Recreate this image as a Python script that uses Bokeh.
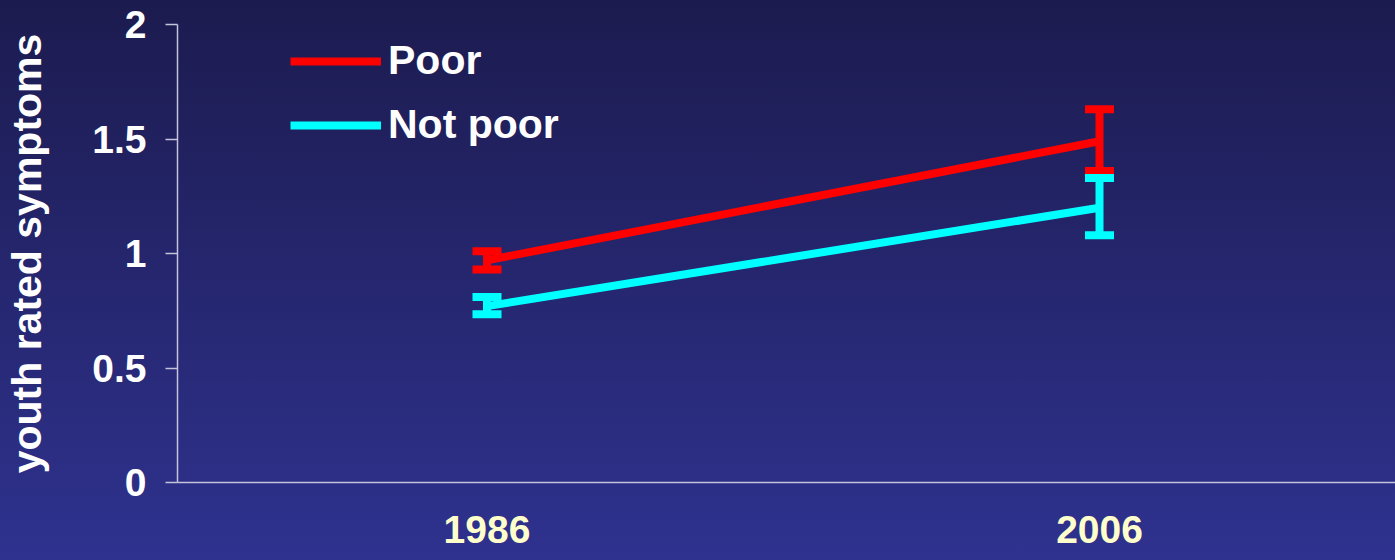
from bokeh.plotting import figure
from bokeh.models import (Range1d, FixedTicker, NumeralTickFormatter, Whisker, TeeHead,
                          ColumnDataSource, Legend, LegendItem, InlineStyleSheet)
from bokeh.embed import file_html
from bokeh.resources import INLINE

# ---- data ----
years = [1986, 2006]
year_labels = ["1986", "2006"]
poor_mean = [0.97, 1.49]
poor_lower = [0.93, 1.36]
poor_upper = [1.01, 1.63]
notpoor_mean = [0.77, 1.20]
notpoor_lower = [0.735, 1.08]
notpoor_upper = [0.81, 1.33]
y_ticks = [0, 0.5, 1, 1.5, 2]

FONT = "Liberation Sans"
RED = "#ff0000"
CYAN = "#00ffff"
AXIS_COL = "#c4c4da"
X_START, X_END = 1975.894, 2015.665

p = figure(width=1395, height=560, output_backend="svg", toolbar_location=None,
           x_range=Range1d(X_START, X_END), y_range=Range1d(0, 2),
           min_border_left=177, min_border_right=0, min_border_top=24, min_border_bottom=78)
p.background_fill_color = None
p.border_fill_color = None
p.outline_line_color = None
p.grid.visible = False
p.stylesheets = [InlineStyleSheet(css=":host { background: linear-gradient(180deg, #1c1b4f 0%, #2f328f 100%); }")]

# axes
xa = p.xaxis[0]
xa.ticker = FixedTicker(ticks=years)
xa.major_label_overrides = {y: l for y, l in zip(years, year_labels)}
xa.major_tick_out = 0
xa.major_tick_in = 0
xa.minor_tick_out = 0
xa.minor_tick_in = 0
xa.axis_line_color = AXIS_COL
xa.axis_line_width = 1.5
xa.major_label_text_font = FONT
xa.major_label_text_font_style = "bold"
xa.major_label_text_font_size = "39px"
xa.major_label_text_color = "#ffffcc"
xa.major_label_standoff = 33

ya = p.yaxis[0]
ya.ticker = FixedTicker(ticks=y_ticks)
ya.formatter = NumeralTickFormatter(format="0.[0]")
ya.major_tick_out = 12
ya.major_tick_in = 0
ya.minor_tick_out = 0
ya.minor_tick_in = 0
ya.major_tick_line_color = AXIS_COL
ya.major_tick_line_width = 1.5
ya.axis_line_color = AXIS_COL
ya.axis_line_width = 1.5
ya.major_label_text_font = FONT
ya.major_label_text_font_style = "bold"
ya.major_label_text_font_size = "39px"
ya.major_label_text_color = "white"
ya.major_label_standoff = 19
ya.axis_label = "youth rated symptoms"
ya.axis_label_text_font = FONT
ya.axis_label_text_font_style = "bold"
ya.axis_label_text_font_size = "41px"
ya.axis_label_text_color = "white"
ya.axis_label_standoff = 39

# lines
r_poor = p.line(years, poor_mean, line_color=RED, line_width=8)
r_np = p.line(years, notpoor_mean, line_color=CYAN, line_width=8)

# error bars
for lo, hi, col in [(poor_lower, poor_upper, RED), (notpoor_lower, notpoor_upper, CYAN)]:
    src = ColumnDataSource(dict(x=years, lower=lo, upper=hi))
    w = Whisker(source=src, base="x", lower="lower", upper="upper", dimension="height",
                line_color=col, line_width=8,
                upper_head=TeeHead(size=29, line_color=col, line_width=8),
                lower_head=TeeHead(size=29, line_color=col, line_width=8))
    p.add_layout(w)

legend = Legend(items=[LegendItem(label="Poor", renderers=[r_poor]),
                       LegendItem(label="Not poor", renderers=[r_np])],
                location=(113, 334))
legend.label_text_font = FONT
legend.label_text_font_style = "bold"
legend.label_text_font_size = "41px"
legend.label_text_color = "white"
legend.glyph_width = 91
legend.glyph_height = 46
legend.label_height = 46
legend.label_standoff = 7
legend.spacing = 17
legend.padding = 0
legend.margin = 0
legend.border_line_color = None
legend.background_fill_alpha = 0
p.add_layout(legend)

html = file_html(p, INLINE)
html = html.replace("<body>", '<body style="margin:0; overflow:hidden; background:#2f328f;">', 1)
open("out.html", "w").write(html)
